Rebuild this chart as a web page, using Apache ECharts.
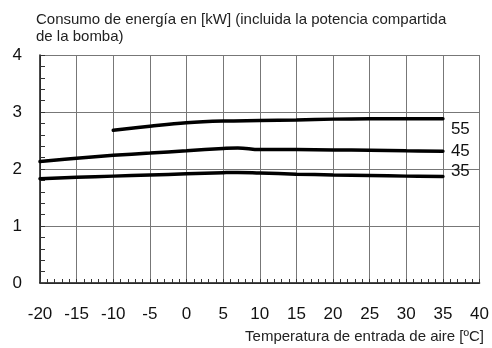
<!DOCTYPE html>
<html><head><meta charset="utf-8">
<script src="https://cdn.jsdelivr.net/npm/echarts@6/dist/echarts.min.js"></script>
<style>html,body{margin:0;padding:0;background:#fff}#c{width:492px;height:348px}</style>
</head><body><div id="c"></div>
<script>
const temps = [-20, -15, -10, -5, 0, 5, 7, 10, 15, 20, 25, 30, 35];
const s55 = [null, null, 2.68, 2.75, 2.81, 2.84, null, 2.85, 2.86, 2.875, 2.88, 2.88, 2.88];
const s45 = [2.13, 2.19, 2.24, 2.28, 2.32, 2.36, 2.37, 2.34, 2.34, 2.335, 2.33, 2.32, 2.31];
const s35 = [1.83, 1.855, 1.875, 1.895, 1.915, 1.935, 1.94, 1.93, 1.91, 1.895, 1.885, 1.875, 1.87];
const seriesNames = ['55', '45', '35'];
const labelOffsets = [[4, 10], [4, 0], [4, -5]];
const yTicks = [0, 1, 2, 3, 4];
const xTicks = [-20, -15, -10, -5, 0, 5, 10, 15, 20, 25, 30, 35, 40];
const titleText = 'Consumo de energía en [kW] (incluida la potencia compartida\nde la bomba)';
const xName = 'Temperatura de entrada de aire [ºC]';

const font = '"Liberation Sans", Arial, sans-serif';
function pairs(vals) {
  return temps.map((t, i) => vals[i] == null ? null : [t, vals[i]]).filter(p => p);
}
const allVals = [s55, s45, s35];
const chart = echarts.init(document.getElementById('c'), null, {renderer: 'canvas'});
chart.setOption({
  animation: false,
  backgroundColor: '#fff',
  grid: {left: 40, right: 12, top: 55, bottom: 65, containLabel: false},
  graphic: [{
    type: 'text', left: 36, top: 11,
    style: {text: titleText, font: '15px ' + font, fill: '#222', lineHeight: 17}
  }, {
    type: 'text', right: 8, top: 329,
    style: {text: xName, font: '15px ' + font, fill: '#222'}
  }],
  xAxis: {
    type: 'value', min: -20, max: 40, interval: 5,
    axisLine: {show: true, onZero: false, lineStyle: {color: '#111', width: 1.5}},
    axisTick: {show: true, inside: true, length: 4, lineStyle: {color: '#333'}},
    minorTick: {show: true, splitNumber: 5, length: 4, lineStyle: {color: '#333'}},
    axisLabel: {fontSize: 17, color: '#111', fontFamily: font, margin: 23,
      formatter: v => xTicks.includes(v) ? String(v) : ''},
    splitLine: {show: true, lineStyle: {color: '#777', width: 1}}
  },
  yAxis: {
    type: 'value', min: 0, max: 4, interval: 1,
    axisLine: {show: true, onZero: false, lineStyle: {color: '#111', width: 1.5}},
    axisTick: {show: true, inside: true, length: 5, lineStyle: {color: '#333'}},
    minorTick: {show: true, splitNumber: 5, length: 5, lineStyle: {color: '#333'}},
    axisLabel: {fontSize: 17, color: '#111', fontFamily: font, margin: 18,
      formatter: v => yTicks.includes(v) ? String(v) : ''},
    splitLine: {show: true, lineStyle: {color: '#777', width: 1}}
  },
  series: allVals.map((vals, i) => ({
    type: 'line', name: seriesNames[i], data: pairs(vals),
    smooth: 0.4, symbol: 'none',
    lineStyle: {color: '#000', width: 3.5, cap: 'round'},
    endLabel: {show: true, formatter: seriesNames[i], fontSize: 17, color: '#111',
      fontFamily: font, offset: labelOffsets[i], distance: 4}
  }))
});
</script></body></html>
